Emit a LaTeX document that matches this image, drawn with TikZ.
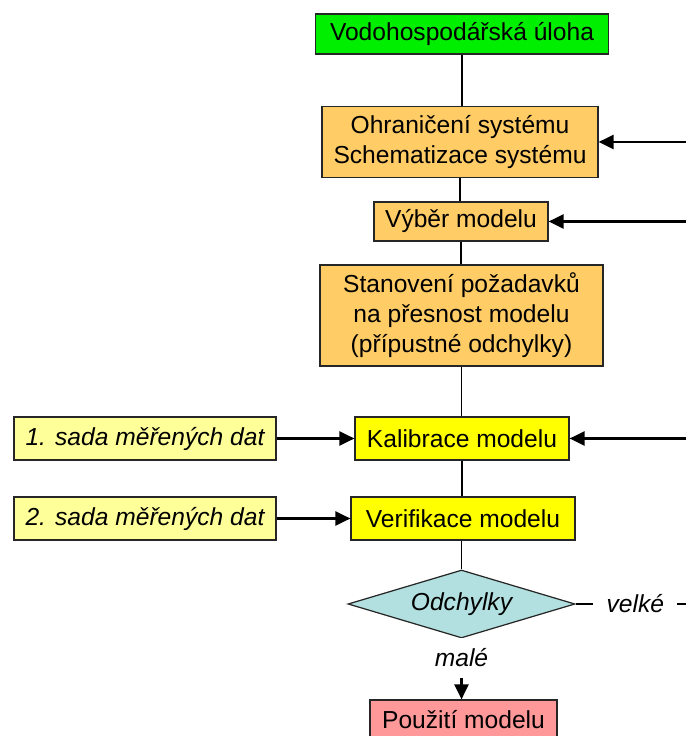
\documentclass[tikz,border=0pt]{standalone}
\usepackage{fontspec}
\setmainfont{Liberation Sans}
\usepackage{xcolor}
\definecolor{vhgreen}{RGB}{0,238,0}
\definecolor{vhorange}{RGB}{255,204,102}
\definecolor{vhyellow}{RGB}{255,255,0}
\definecolor{vhlight}{RGB}{255,255,153}
\definecolor{vhteal}{RGB}{178,223,223}
\definecolor{vhpink}{RGB}{255,153,153}
\usetikzlibrary{arrows.meta, positioning, shapes.geometric}

\begin{document}
\begin{tikzpicture}[
  box/.style={draw=black!85, line width=0.7pt, align=center, inner sep=0pt,
              font=\fontsize{14}{17}\selectfont},
  arr/.style={-{Triangle[length=8.5pt,width=8pt]}, line width=1.3pt},
  link/.style={line width=0.8pt},
  lbl/.style={fill=white, font=\fontsize{14}{17}\selectfont\itshape}
]
  \clip (0,0) rectangle (13.72,14.72);
  \coordinate (edge) at (13.9,0);

  % Main chain -- task, system, model, requirements
  \node[box, fill=vhgreen, minimum width=5.86cm, minimum height=0.8cm]
       (uloha) at (9.24,14.04) {Vodohospodářská úloha};
  \node[box, fill=vhorange, minimum width=5.52cm, minimum height=1.42cm]
       (ohran) at (9.2,11.88) {Ohraničení systému\\Schematizace systému};
  \node[box, fill=vhorange, minimum width=3.48cm, minimum height=0.78cm]
       (vyber) at (9.22,10.29) {Výběr modelu};
  \node[box, fill=vhorange, minimum width=5.66cm, minimum height=2.02cm]
       (stanov) at (9.23,8.41) {Stanovení požadavků\\na přesnost modelu\\(přípustné odchylky)};

  % Calibration and verification
  \node[box, fill=vhyellow, minimum width=4.28cm, minimum height=0.86cm]
       (kalib) at (9.24,5.95) {Kalibrace modelu};
  \node[box, fill=vhyellow, minimum width=4.48cm, minimum height=0.86cm]
       (verif) at (9.26,4.35) {Verifikace modelu};
  \node[box, fill=vhlight, minimum width=5.24cm, minimum height=0.86cm]
       (sada1) at (2.9,5.95) {\itshape 1. sada měřených dat};
  \node[box, fill=vhlight, minimum width=5.24cm, minimum height=0.86cm]
       (sada2) at (2.9,4.35) {\itshape 2. sada měřených dat};

  % Decision and result
  \node[box, shape=diamond, aspect=3.3, fill=vhteal, minimum width=4.54cm, minimum height=1.36cm]
       (odch) at (9.23,2.64) {\itshape Odchylky};
  \node[box, fill=vhpink, minimum width=3.74cm, minimum height=0.8cm]
       (pouz) at (9.27,0.32) {Použití modelu};

  % Vertical links
  \draw[link] (uloha.south) -- (uloha.south |- ohran.north);
  \draw[link] (ohran.south) -- (ohran.south |- vyber.north);
  \draw[link] (vyber.south) -- (vyber.south |- stanov.north);
  \draw[link] (stanov.south) -- (stanov.south |- kalib.north);
  \draw[link] (kalib.south) -- (kalib.south |- verif.north);
  \draw[link] (odch.north |- verif.south) -- (odch.north);

  % Data inputs
  \draw[arr] (sada1.east) -- (kalib.west);
  \draw[arr] (sada2.east) -- (verif.west);

  % Returns from the right
  \draw[arr] (ohran.east -| edge) -- (ohran.east);
  \draw[arr] (vyber.east -| edge) -- (vyber.east);
  \draw[arr] (kalib.east -| edge) -- (kalib.east);

  % Outcomes
  \draw[line width=1.3pt] (odch.east) -- (edge |- odch.east)
       node[lbl, midway, inner xsep=7.5pt] {velké};
  \draw[arr] (odch.south) -- (odch.south |- pouz.north)
       node[lbl, pos=0.32, inner ysep=6pt] {malé};
\end{tikzpicture}
\end{document}
